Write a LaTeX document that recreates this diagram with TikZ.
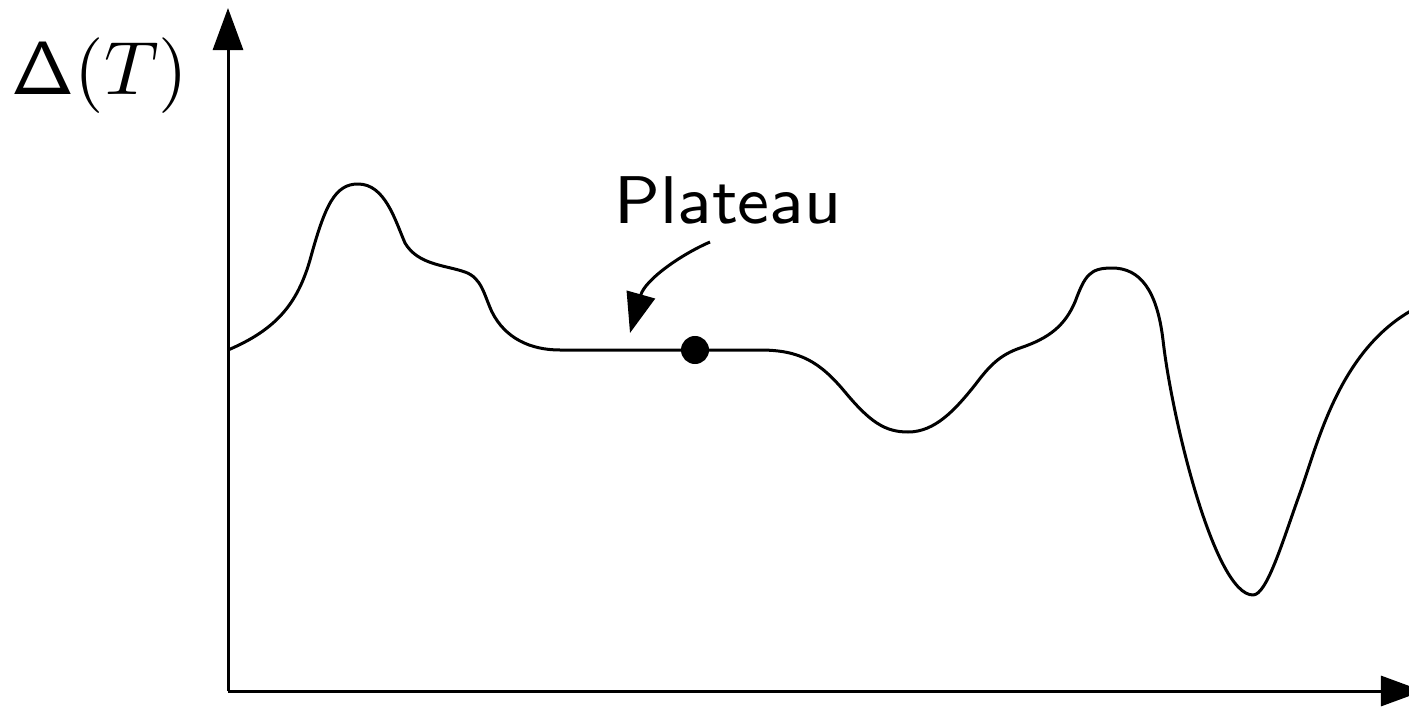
\documentclass[tikz,border=0pt]{standalone}
\usepackage{graphicx}
\usetikzlibrary{arrows.meta}
\tikzset{
  axis/.style={line width=0.03cm, -{Triangle[length=0.42cm,width=0.30cm]}},
  curve/.style={line width=0.03cm, line join=round},
  pointer/.style={line width=0.03cm, -{Triangle[length=0.40cm,width=0.29cm]}},
  lbl/.style={inner sep=0pt, anchor=base},
  dot/.style={circle, fill=black, inner sep=0pt, minimum size=0.28cm}
}
\begin{document}
\begin{tikzpicture}[x=0.01cm, y=-0.01cm]
\useasboundingbox (0,0) rectangle (1409,706);
\clip (0,0) rectangle (1409,706);
% axes
\coordinate (O) at (228,691);
\coordinate (Ytop) at (228,8);
\coordinate (Xend) at (1423,691);
\draw[axis] (O) -- (Ytop);
\draw[axis] (O) -- (Xend);
% y label
\node[lbl] (ylabel) at (100,94) {\scalebox{2.15}{\fontsize{10}{12}\selectfont$\mathsf{\Delta}(T)$}};
% curve
\draw[curve] (228,350)
  .. controls (275,330) and (297,305) .. (310,260)
  .. controls (325,205) and (335,184) .. (358,184)
  .. controls (385,184) and (395,220) .. (405,243)
  .. controls (418,265) and (445,265) .. (465,272)
  .. controls (482,278) and (484,295) .. (492,312)
  .. controls (505,338) and (530,350) .. (560,350)
  -- (760,350)
  .. controls (800,350) and (820,362) .. (845,392)
  .. controls (870,422) and (885,432) .. (908,432)
  .. controls (935,432) and (955,410) .. (975,385)
  .. controls (990,365) and (1000,355) .. (1020,348)
  .. controls (1050,338) and (1065,325) .. (1075,302)
  .. controls (1085,275) and (1090,268) .. (1112,268)
  .. controls (1140,268) and (1157,290) .. (1163,340)
  .. controls (1172,420) and (1215,595) .. (1253,595)
  .. controls (1267,595) and (1283,540) .. (1300,493)
  .. controls (1318,443) and (1340,345) .. (1420,306);
% plateau point
\node[dot] (pt) at (695,350) {};
% label and pointer
\node[lbl] (plateau) at (728,223) {\scalebox{2.4}{\fontsize{8}{10}\selectfont\sffamily Plateau}};
\coordinate (pstart) at (710,242);
\coordinate (pend) at (630,333);
\draw[pointer] (pstart) .. controls (680,255) and (645,280) .. (pend);
\end{tikzpicture}
\end{document}
